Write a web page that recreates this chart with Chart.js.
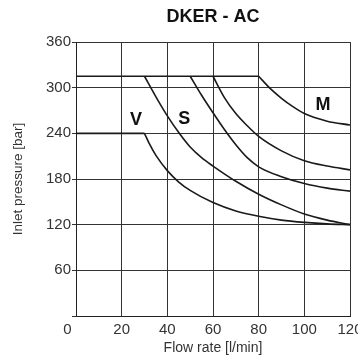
<!DOCTYPE html>
<html><head><meta charset="utf-8">
<script src="https://cdn.jsdelivr.net/npm/chart.js@4.4.1/dist/chart.umd.min.js"></script>
<style>html,body{margin:0;padding:0;background:#fff}#wrap{width:358px;height:359px;position:relative}</style>
</head><body><div id="wrap"><canvas id="c"></canvas></div>
<script>
// ---- data ----
const titleText = 'DKER - AC';
const xTitle = 'Flow rate [l/min]';
const yTitle = 'Inlet pressure [bar]';
const flowTicks = [0, 20, 40, 60, 80, 100, 120];
const pressureTicks = [0, 60, 120, 180, 240, 300, 360];

const flatHighFlow = [0, 80];
const flatHighPress = [315, 315];
const flatLowFlow = [0, 30];
const flatLowPress = [240, 240];

const vFlow = [30, 32, 35, 40, 45, 50, 60, 70, 80, 90, 100, 110, 120];
const vPress = [240, 227, 211, 191, 176, 165, 149, 138, 131, 126, 123, 121, 120];

const aFlow = [30, 35, 40, 45, 50, 55, 60, 70, 80, 90, 100, 110, 120];
const aPress = [315, 288, 263, 241, 222, 208, 197, 177, 160, 146, 134, 126, 120];

const bFlow = [50, 55, 60, 65, 70, 75, 80, 90, 100, 110, 120];
const bPress = [315, 290, 267, 245, 225, 208, 196, 183, 174, 168, 164];

const cFlow = [60, 65, 70, 75, 80, 90, 100, 110, 120];
const cPress = [315, 287, 266, 250, 236, 217, 204, 197, 192];

const mFlow = [80, 85, 90, 95, 100, 110, 120];
const mPress = [315, 299, 286, 275, 266, 256, 251];

const curveLabels = ['V', 'S', 'M'];
const labelFlow = [26.3, 47.4, 108.2];
const labelPress = [258, 259, 277];

// ---- build ----
const FONT = '"Liberation Sans", Arial, sans-serif';
const pts = (xs, ys) => xs.map((v, i) => ({x: v, y: ys[i]}));
const series = [
  [flatHighFlow, flatHighPress], [flatLowFlow, flatLowPress],
  [vFlow, vPress], [aFlow, aPress], [bFlow, bPress], [cFlow, cPress], [mFlow, mPress]
];
const datasets = series.map(([xs, ys]) => ({
  data: pts(xs, ys), showLine: true, pointRadius: 0, borderColor: '#1a1a1a',
  borderWidth: 1.6, cubicInterpolationMode: 'monotone', fill: false
}));

const extraText = {
  id: 'extraText',
  afterDatasetsDraw(chart) {
    const {ctx, scales: {x, y}} = chart;
    ctx.save();
    ctx.font = 'bold 18px ' + FONT;
    ctx.fillStyle = '#111';
    ctx.textAlign = 'center';
    ctx.textBaseline = 'middle';
    curveLabels.forEach((t, i) => ctx.fillText(t, x.getPixelForValue(labelFlow[i]), y.getPixelForValue(labelPress[i])));
    ctx.font = '15px ' + FONT;
    ctx.fillStyle = '#333';
    ctx.fillText(String(flowTicks[0]), x.getPixelForValue(flowTicks[0]) - 8.5, x.top + 14);
    ctx.restore();
  }
};

new Chart(document.getElementById('c'), {
  type: 'scatter',
  data: {datasets},
  plugins: [extraText],
  options: {
    responsive: true, maintainAspectRatio: false, animation: false,
    layout: {padding: {left: 0, right: 8, top: 0, bottom: 0}},
    plugins: {
      legend: {display: false}, tooltip: {enabled: false},
      title: {display: true, text: titleText, fullSize: false, color: '#111',
        font: {family: FONT, size: 18, weight: 'bold'}, padding: {top: 6, bottom: 14.4}}
    },
    scales: {
      x: {
        type: 'linear', min: flowTicks[0], max: flowTicks[flowTicks.length - 1],
        afterBuildTicks: s => { s.ticks = flowTicks.map(v => ({value: v})); },
        ticks: {callback: v => v === 0 ? '' : v, color: '#333', font: {family: FONT, size: 15}, padding: 5, maxRotation: 0, autoSkip: false},
        grid: {color: '#333', lineWidth: 1, drawTicks: false},
        border: {display: true, color: '#222', width: 1},
        title: {display: true, text: xTitle, color: '#333', font: {family: FONT, size: 14}, padding: {top: 0, bottom: 2.6}},
        afterFit: s => { s.paddingLeft = 0; s.paddingRight = 0; s.height = 43; }
      },
      y: {
        type: 'linear', min: pressureTicks[0], max: pressureTicks[pressureTicks.length - 1],
        afterBuildTicks: s => { s.ticks = pressureTicks.map(v => ({value: v})); },
        ticks: {callback: v => v === 0 ? '' : v, color: '#333', font: {family: FONT, size: 15}, padding: 1, autoSkip: false},
        grid: {color: '#333', lineWidth: 1, drawTicks: true, tickLength: 4},
        border: {display: true, color: '#222', width: 1},
        title: {display: true, text: yTitle, color: '#333', font: {family: FONT, size: 13.5}, padding: {top: 10, bottom: 0}},
        afterFit: s => { s.width = 76; s.paddingTop = 0; s.paddingBottom = 0; }
      }
    }
  }
});
</script></body></html>
